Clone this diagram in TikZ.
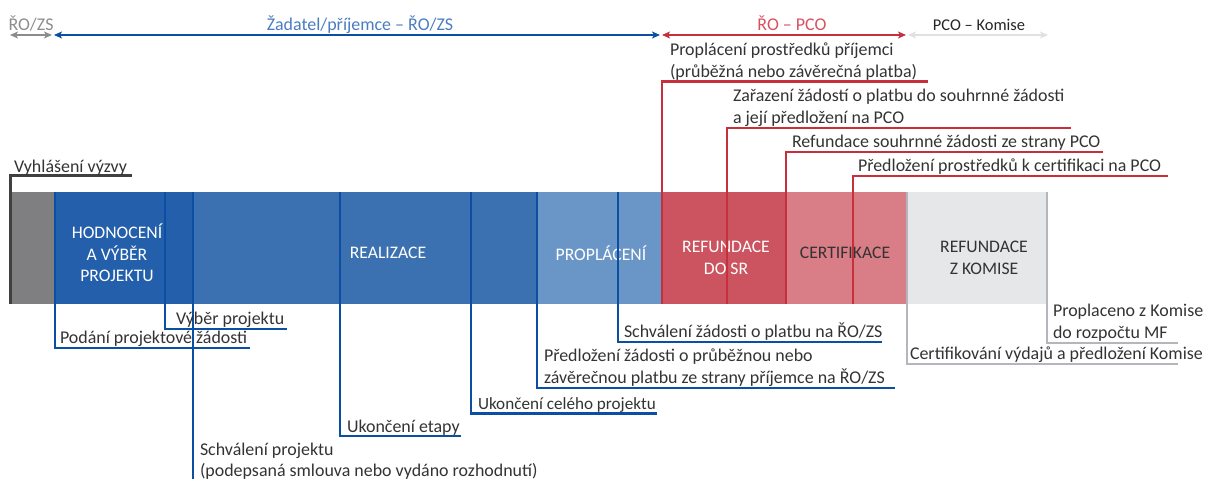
\documentclass[tikz,border=0pt]{standalone}
\usepackage{fontspec}
\setmainfont{Carlito}
\usetikzlibrary{arrows.meta}
\definecolor{segGray}{HTML}{7F7F82}
\definecolor{segDB}{HTML}{235FAA}
\definecolor{segMB}{HTML}{3B71B1}
\definecolor{segLB}{HTML}{6A96C7}
\definecolor{segR}{HTML}{CB5460}
\definecolor{segP}{HTML}{D97D87}
\definecolor{segLG}{HTML}{E6E7E9}
\definecolor{lnB}{HTML}{0B4EA2}
\definecolor{lnR}{HTML}{C62F3C}
\definecolor{lnG}{HTML}{B3B6BA}
\definecolor{lnK}{HTML}{404040}
\definecolor{txt}{HTML}{333333}
\definecolor{topG}{HTML}{8C8C8C}
\definecolor{topB}{HTML}{4A7CC0}
\definecolor{topR}{HTML}{D9505D}
\definecolor{topLG}{HTML}{E0E1E4}
\begin{document}
\begin{tikzpicture}[x=1bp,y=-1bp,
  every node/.style={inner sep=0pt,outer sep=0pt},
  seg/.style={draw=none,minimum height=112bp,anchor=north west},
  lbl/.style={anchor=base west,font=\fontsize{18}{21}\selectfont,text=txt},
  toplbl/.style={anchor=base,font=\fontsize{18}{21}\selectfont},
  barlbl/.style={anchor=center,align=center,font=\fontsize{17.7}{21.5}\selectfont},
  leadB/.style={draw=lnB,line width=2.4bp},
  leadR/.style={draw=lnR,line width=2.4bp},
  leadG/.style={draw=lnG,line width=2.4bp},
  span/.style={line width=1.5bp,{Stealth[length=8bp,width=7bp,inset=2bp]}-{Stealth[length=8bp,width=7bp,inset=2bp]}}
]
\useasboundingbox (0,0) rectangle (1210,479);

% top spans
\coordinate (a0) at (10,35);
\coordinate (a1) at (52,35);
\coordinate (b0) at (54,35);
\coordinate (b1) at (660,35);
\coordinate (c0) at (662,35);
\coordinate (c1) at (906,35);
\coordinate (d0) at (908,35);
\coordinate (d1) at (1048,35);
\draw[span,topG] (a0) -- (a1);
\draw[span,lnB] (b0) -- (b1);
\draw[span,lnR] (c0) -- (c1);
\draw[span,topLG] (d0) -- (d1);
\node[toplbl,text=topG] (ta) at (31,31) {ŘO/ZS};
\node[toplbl,text=topB] (tb) at (360,31) {Žadatel/příjemce – ŘO/ZS};
\node[toplbl,text=topR] (tc) at (792,31) {ŘO – PCO};
\node[toplbl,text=black!85,font=\fontsize{16.5}{20}\selectfont] (td) at (979,31) {PCO – Komise};

% bar segments
\node[seg,fill=segGray,minimum width=44bp] (sA) at (10,192) {};
\node[seg,fill=segDB,minimum width=139bp] (sB) at (54,192) {};
\node[seg,fill=segMB,minimum width=345bp] (sC) at (193,192) {};
\node[seg,fill=segLB,minimum width=123bp] (sD) at (538,192) {};
\node[seg,fill=segR,minimum width=126bp] (sE) at (661,192) {};
\node[seg,fill=segP,minimum width=119bp] (sF) at (787,192) {};
\node[seg,fill=segLG,minimum width=141bp] (sG) at (906,192) {};

\node[barlbl,text=white] (lB) at (117,253) {HODNOCENÍ\\A VÝBĚR\\PROJEKTU};
\node[barlbl,text=white] (lC) at (388,253) {REALIZACE};
\node[barlbl,text=white] (lD) at (601,253) {PROPLÁCENÍ};
\node[barlbl,text=white] (lE) at (726,258) {REFUNDACE\\DO SR};
\node[barlbl,text=txt] (lF) at (845,253) {CERTIFIKACE};
\node[barlbl,text=txt] (lG) at (984,258) {REFUNDACE\\Z KOMISE};

% Vyhlášení výzvy
\coordinate (v0) at (10.7,304);
\coordinate (v1) at (132,176);
\draw[draw=lnK,line width=3bp] (v0) |- (v1);
\node[lbl] (tv) at (14,172.5) {Vyhlášení výzvy};

% blue leaders
\coordinate (b1s) at (55,192);   \coordinate (b1e) at (250,348);
\coordinate (b2s) at (165,192);  \coordinate (b2e) at (287,329);
\coordinate (b3s) at (193,192);  \coordinate (b3e) at (193,481);
\coordinate (b4s) at (340,192);  \coordinate (b4e) at (461,436);
\coordinate (b5s) at (471,192);  \coordinate (b5e) at (657,413.5);
\coordinate (b6s) at (537,192);  \coordinate (b6e) at (895,388);
\coordinate (b7s) at (618,192);  \coordinate (b7e) at (882,342);
\draw[leadB] (b1s) |- (b1e);
\draw[leadB] (b2s) |- (b2e);
\draw[leadB] (b3s) -- (b3e);
\draw[leadB] (b4s) |- (b4e);
\draw[leadB] (b5s) |- (b5e);
\draw[leadB] (b6s) |- (b6e);
\draw[leadB] (b7s) |- (b7e);
\node[lbl] (t1) at (60,344) {Podání projektové žádosti};
\node[lbl] (t2) at (176,325) {Výběr projektu};
\node[lbl] (t3a) at (200,455) {Schválení projektu};
\node[lbl] (t3b) at (200,476) {(podepsaná smlouva nebo vydáno rozhodnutí)};
\node[lbl] (t4) at (347,432) {Ukončení etapy};
\node[lbl,font=\fontsize{17.2}{21}\selectfont] (t5) at (478,409) {Ukončení celého projektu};
\node[lbl] (t6a) at (544,362) {Předložení žádosti o průběžnou nebo};
\node[lbl] (t6b) at (544,384) {závěrečnou platbu ze strany příjemce na ŘO/ZS};
\node[lbl] (t7) at (624,338) {Schválení žádosti o platbu na ŘO/ZS};

% red leaders
\coordinate (r1s) at (662,304);  \coordinate (r1e) at (928,81.5);
\coordinate (r2s) at (727,304);  \coordinate (r2e) at (1071,128);
\coordinate (r3s) at (786,304);  \coordinate (r3e) at (1103,152);
\coordinate (r4s) at (853,304);  \coordinate (r4e) at (1168,176);
\draw[leadR] (r1s) |- (r1e);
\draw[leadR] (r2s) |- (r2e);
\draw[leadR] (r3s) |- (r3e);
\draw[leadR] (r4s) |- (r4e);
\node[lbl] (u1a) at (670,56) {Proplácení prostředků příjemci};
\node[lbl] (u1b) at (670,78) {(průběžná nebo závěrečná platba)};
\node[lbl] (u2a) at (733,102) {Zařazení žádostí o platbu do souhrnné žádosti};
\node[lbl] (u2b) at (733,124) {a její předložení na PCO};
\node[lbl] (u3) at (792,148) {Refundace souhrnné žádosti ze strany PCO};
\node[lbl] (u4) at (858,171.5) {Předložení prostředků k certifikaci na PCO};

% gray leaders
\coordinate (g1s) at (907,192);  \coordinate (g1e) at (1178,364);
\coordinate (g2s) at (1047,192); \coordinate (g2e) at (1178,343);
\draw[leadG] (g1s) |- (g1e);
\draw[leadG] (g2s) |- (g2e);
\node[lbl] (w1) at (910,360) {Certifikování výdajů a předložení Komise};
\node[lbl] (w2a) at (1053,317) {Proplaceno z Komise};
\node[lbl] (w2b) at (1053,339) {do rozpočtu MF};
\end{tikzpicture}
\end{document}
